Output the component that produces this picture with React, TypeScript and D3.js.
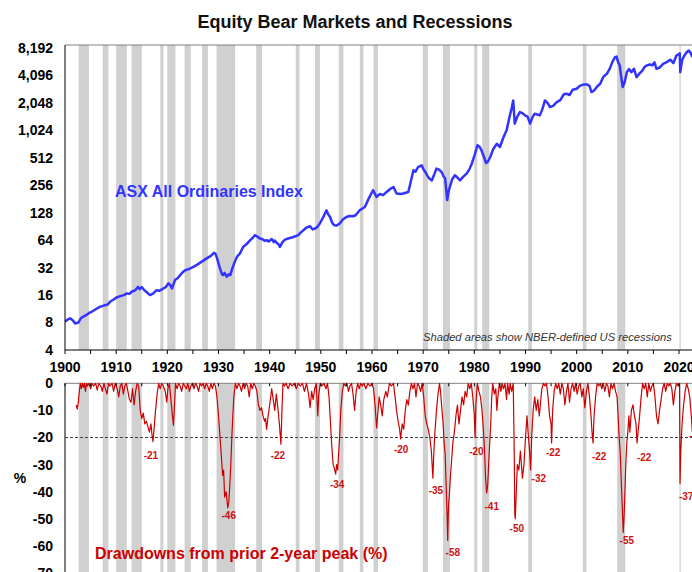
import React, { useRef, useEffect } from "react";
import { select, scaleLinear, scaleLog, line } from "d3";

// NBER US recessions (start, end) in fractional years
const recessions: [number, number][] = [
  [1902.67, 1904.67], [1907.37, 1908.5], [1910.0, 1912.08], [1913.0, 1915.0],
  [1918.62, 1919.25], [1920.0, 1921.58], [1923.37, 1924.58], [1926.8, 1927.92],
  [1929.62, 1933.25], [1937.37, 1938.5], [1945.1, 1945.83], [1948.87, 1949.83],
  [1953.5, 1954.42], [1957.62, 1958.33], [1960.29, 1961.17], [1969.92, 1970.92],
  [1973.87, 1975.25], [1980.0, 1980.58], [1981.54, 1982.92], [1990.54, 1991.25],
  [2001.2, 2001.92], [2007.92, 2009.5], [2020.1, 2020.33],
];

// ASX All Ordinaries index
const asxIndex: [number, number][] = [
  [1900.0, 8.2], [1900.5, 8.6], [1901.0, 8.9], [1901.5, 8.5], [1902.0, 7.8], [1902.6, 8.0],
  [1903.1, 8.9], [1903.6, 9.3], [1904.2, 9.7], [1904.7, 10.2], [1905.2, 10.5], [1906.0, 11.2],
  [1906.8, 11.9], [1907.3, 12.1], [1907.8, 12.4], [1908.3, 12.6], [1908.8, 13.5], [1909.5, 14.3],
  [1910.1, 15.1], [1910.8, 15.6], [1911.5, 16.0], [1912.1, 16.7], [1912.6, 16.5], [1913.0, 17.4],
  [1913.7, 18.0], [1914.3, 19.7], [1914.6, 18.6], [1915.0, 19.6], [1915.5, 18.1], [1916.0, 17.2],
  [1916.6, 16.0], [1917.2, 16.6], [1917.9, 18.1], [1918.5, 17.9], [1919.2, 18.9], [1919.7, 19.6],
  [1920.2, 21.5], [1920.6, 20.5], [1920.9, 18.9], [1921.2, 21.0], [1921.5, 23.4], [1922.0, 24.5],
  [1922.5, 26.5], [1923.0, 28.5], [1923.5, 30], [1924.2, 30.8], [1925.1, 32.6], [1926.0, 35],
  [1926.8, 37.5], [1927.7, 40.4], [1928.5, 43], [1929.1, 46.5], [1929.4, 45.5], [1929.7, 41],
  [1930.1, 34], [1930.4, 30], [1930.7, 27], [1930.9, 26.5], [1931.2, 28], [1931.6, 25.4],
  [1932.0, 27], [1932.3, 26.5], [1932.6, 30], [1933.0, 35], [1933.6, 42], [1934.2, 45.8],
  [1934.8, 54], [1935.5, 58], [1936.2, 64], [1936.7, 68], [1937.1, 72.6], [1937.6, 70],
  [1938.1, 66.8], [1938.6, 65.5], [1939.0, 63], [1939.4, 64], [1939.8, 62], [1940.4, 66],
  [1940.8, 61], [1941.0, 63.5], [1941.4, 59.7], [1941.8, 57], [1942.0, 54], [1942.5, 61],
  [1943.0, 65], [1943.6, 66.8], [1944.5, 69], [1945.6, 72.6], [1946.1, 78], [1946.6, 82.4],
  [1947.2, 88], [1947.9, 91], [1948.4, 84], [1948.9, 86], [1949.3, 89], [1949.8, 97.5],
  [1950.5, 115], [1951.1, 136], [1951.4, 124], [1951.8, 115], [1952.2, 100], [1952.6, 93.4],
  [1953.1, 93], [1953.7, 97.5], [1954.3, 108], [1955.0, 115], [1955.6, 118], [1956.3, 117],
  [1956.8, 120], [1957.6, 136], [1958.6, 148], [1959.4, 185], [1960.2, 226], [1960.6, 205],
  [1960.9, 191], [1961.5, 205], [1962.2, 200], [1962.8, 215], [1963.5, 232], [1964.2, 245],
  [1964.8, 208], [1965.5, 205], [1966.1, 208], [1967.1, 216], [1967.7, 300], [1968.1, 374],
  [1968.5, 360], [1969.0, 406], [1969.7, 424], [1970.1, 380], [1970.4, 358], [1970.9, 320],
  [1971.3, 300], [1971.7, 290], [1972.2, 340], [1972.6, 390], [1973.1, 380], [1973.6, 358],
  [1974.0, 320], [1974.3, 303], [1974.7, 176], [1974.9, 210], [1975.2, 245], [1975.7, 300],
  [1976.2, 330], [1976.7, 310], [1977.2, 290], [1977.9, 320], [1978.5, 344], [1979.0, 380],
  [1979.5, 442], [1980.1, 560], [1980.6, 702], [1981.0, 680], [1981.4, 619], [1981.9, 520],
  [1982.3, 449], [1982.7, 470], [1983.1, 523], [1983.7, 640], [1984.4, 731], [1985.0, 672],
  [1985.7, 860], [1986.3, 1024], [1986.9, 1450], [1987.3, 1800], [1987.6, 2180], [1987.9, 1212],
  [1988.4, 1450], [1988.9, 1625], [1989.4, 1580], [1989.9, 1494], [1990.4, 1450], [1990.9, 1212],
  [1991.3, 1400], [1991.8, 1559], [1992.3, 1530], [1992.8, 1494], [1993.3, 1750], [1993.8, 2180],
  [1994.3, 2050], [1994.8, 1843], [1995.4, 1900], [1996.1, 2090], [1996.8, 2200], [1997.5, 2550],
  [1998.0, 2583], [1998.6, 2500], [1999.2, 2850], [2000.0, 2928], [2000.6, 3150], [2001.3, 3250],
  [2002.0, 3266], [2002.5, 3150], [2002.9, 2692], [2003.4, 2800], [2004.0, 3100], [2004.6, 3323],
  [2005.2, 3950], [2005.9, 4273], [2006.5, 4900], [2007.0, 5800], [2007.5, 6502], [2007.8, 6600],
  [2008.1, 5732], [2008.4, 5300], [2008.8, 3600], [2009.0, 3053], [2009.4, 3500], [2009.8, 4452],
  [2010.2, 4800], [2010.7, 4452], [2011.2, 4850], [2011.7, 3926], [2012.2, 4250], [2012.8, 4600],
  [2013.3, 5100], [2013.7, 5272], [2014.3, 5400], [2014.8, 5300], [2015.2, 5700], [2015.6, 4850],
  [2016.2, 5000], [2016.9, 5500], [2017.6, 5732], [2018.3, 6100], [2018.9, 5600], [2019.5, 6780],
  [2019.9, 7000], [2020.15, 7150], [2020.25, 4452], [2020.6, 6000], [2021.0, 6700], [2021.5, 7370],
  [2021.9, 7700], [2022.3, 7200], [2022.6, 6502],
];

// drawdown from prior 2-year peak (%)
const drawdowns: [number, number][] = [
  [1902.2, -8], [1902.4, -9.5], [1902.6, -7], [1902.8, -3], [1903.0, 0], [1903.2, -2], [1903.4, 0],
  [1903.6, -1.5], [1903.8, 0], [1904.0, -3], [1904.2, 0], [1904.4, -1], [1904.7, 0], [1905.0, -2],
  [1905.3, 0], [1905.6, -1], [1906.0, 0], [1906.3, -2.5], [1906.6, 0], [1907.0, -1], [1907.3, -3],
  [1907.6, 0], [1907.9, -2], [1908.2, -4], [1908.5, 0], [1908.8, -1], [1909.2, 0], [1909.5, -3],
  [1909.8, 0], [1910.2, -2], [1910.5, -5], [1910.8, -1], [1911.1, 0], [1911.4, -4], [1911.7, -1],
  [1912.0, 0], [1912.3, -3], [1912.6, -6], [1912.9, -7], [1913.2, -2], [1913.5, -8], [1913.8, -3],
  [1914.1, 0], [1914.4, -1], [1914.7, -10], [1915.0, -13], [1915.3, -11], [1915.6, -15], [1915.9, -14],
  [1916.2, -16], [1916.5, -18], [1916.8, -15], [1917.0, -19], [1917.2, -21.5], [1917.4, -17],
  [1917.7, -10], [1918.0, -4], [1918.3, 0], [1918.6, -2], [1918.9, 0], [1919.2, -1], [1919.6, -3],
  [1919.9, -7], [1920.1, -2], [1920.4, 0], [1920.7, -6], [1921.0, -12], [1921.2, -15.5], [1921.4, -8],
  [1921.6, 0], [1921.9, -2], [1922.2, 0], [1922.5, -1], [1922.8, -3], [1923.1, 0], [1923.4, -1],
  [1923.7, -2], [1924.0, 0], [1924.3, -3], [1924.6, -1], [1924.9, 0], [1925.2, -2], [1925.5, 0],
  [1925.8, -1], [1926.1, -3], [1926.4, 0], [1926.7, -1], [1927.0, 0], [1927.3, -2], [1927.6, 0],
  [1927.9, -1], [1928.2, -3], [1928.5, 0], [1928.8, -2], [1929.1, 0], [1929.4, -1], [1929.7, -5],
  [1930.0, -12], [1930.3, -20], [1930.6, -28], [1930.8, -34], [1931.0, -32], [1931.2, -42],
  [1931.5, -40], [1931.8, -46], [1932.0, -44], [1932.2, -38], [1932.4, -30], [1932.6, -20],
  [1932.8, -12], [1933.0, -5], [1933.3, 0], [1933.6, -2], [1933.9, 0], [1934.2, -1], [1934.5, -3],
  [1934.8, 0], [1935.1, -2], [1935.4, 0], [1935.7, -1], [1936.0, -5], [1936.3, 0], [1936.6, -2],
  [1936.9, 0], [1937.2, -1], [1937.5, -3], [1937.8, -8], [1938.1, -10], [1938.4, -9], [1938.7, -12],
  [1939.0, -14], [1939.2, -13], [1939.4, -17], [1939.7, -12], [1940.0, -8], [1940.4, -2], [1940.7, -6],
  [1941.0, -10], [1941.3, -4], [1941.6, -9], [1941.9, -15], [1942.2, -22.5], [1942.4, -10],
  [1942.6, 0], [1942.9, -1], [1943.2, 0], [1943.6, -2], [1944.0, 0], [1944.4, -1], [1944.8, 0],
  [1945.2, -2], [1945.6, 0], [1946.0, -1], [1946.4, 0], [1946.8, -3], [1947.2, 0], [1947.6, -4],
  [1947.9, -9], [1948.2, -3], [1948.5, -6], [1948.8, -2], [1949.1, 0], [1949.4, -12], [1949.6, -4],
  [1949.9, 0], [1950.2, -1], [1950.6, 0], [1951.0, -2], [1951.3, 0], [1951.6, -5], [1951.9, -15],
  [1952.1, -22], [1952.4, -30], [1952.6, -31], [1952.9, -33.5], [1953.1, -30], [1953.3, -32],
  [1953.5, -25], [1953.7, -19], [1953.9, -10], [1954.2, -3], [1954.5, 0], [1954.8, -1], [1955.1, 0],
  [1955.4, -3], [1955.7, -1], [1956.0, 0], [1956.3, -4], [1956.6, -10], [1956.9, -3], [1957.2, 0],
  [1957.5, -2], [1957.8, 0], [1958.1, -1], [1958.4, 0], [1958.8, -2], [1959.2, 0], [1959.6, -1],
  [1960.0, 0], [1960.3, -2], [1960.6, -8], [1960.9, -16.5], [1961.1, -12], [1961.4, -5], [1961.7, -8],
  [1962.0, -12], [1962.3, -6], [1962.7, -3], [1963.0, -5], [1963.4, 0], [1963.8, -1], [1964.2, 0],
  [1964.5, -5], [1964.8, -10], [1965.1, -14], [1965.4, -17], [1965.6, -20.5], [1965.9, -15],
  [1966.2, -17], [1966.5, -10], [1966.8, -6], [1967.1, -8], [1967.4, -3], [1967.7, 0], [1968.0, -2],
  [1968.3, 0], [1968.6, -5], [1968.9, 0], [1969.2, -1], [1969.5, -3], [1969.8, 0], [1970.1, -5],
  [1970.4, -12], [1970.7, -15], [1971.0, -17], [1971.3, -20], [1971.6, -25], [1971.9, -35],
  [1972.1, -25], [1972.3, -18], [1972.6, -10], [1972.9, -4], [1973.2, 0], [1973.4, -3], [1973.6, -8],
  [1973.9, -15], [1974.1, -22], [1974.3, -26], [1974.5, -38], [1974.7, -50], [1974.8, -58],
  [1974.95, -45], [1975.1, -42], [1975.3, -35], [1975.5, -30], [1975.8, -22], [1976.1, -18],
  [1976.4, -12], [1976.7, -8], [1977.0, -15], [1977.3, -10], [1977.6, -5], [1977.9, -8], [1978.2, -3],
  [1978.5, -5], [1978.8, 0], [1979.1, -2], [1979.4, 0], [1979.7, -5], [1980.0, -12], [1980.15, -20],
  [1980.3, -8], [1980.6, 0], [1980.9, -3], [1981.2, -5], [1981.5, -10], [1981.8, -18], [1982.0, -25],
  [1982.2, -35], [1982.4, -40.5], [1982.6, -38], [1982.8, -30], [1983.0, -22], [1983.2, -15],
  [1983.4, -5], [1983.6, 0], [1983.9, -4], [1984.2, -2], [1984.4, -10], [1984.6, -5], [1984.9, 0],
  [1985.2, -3], [1985.4, 0], [1985.7, -2], [1986.0, 0], [1986.3, -6], [1986.5, 0], [1986.8, -4],
  [1987.0, 0], [1987.3, -3], [1987.6, 0], [1987.8, -25], [1987.9, -48], [1988.0, -50], [1988.2, -40],
  [1988.4, -30], [1988.7, -32], [1989.0, -25], [1989.2, -30], [1989.4, -35], [1989.7, -30],
  [1990.0, -20], [1990.3, -12], [1990.5, -18], [1990.8, -25], [1991.0, -32], [1991.2, -20],
  [1991.5, -10], [1991.8, -5], [1992.1, -10], [1992.4, -6], [1992.7, -12], [1992.9, -8], [1993.2, -2],
  [1993.5, 0], [1993.8, -1], [1994.1, 0], [1994.4, -5], [1994.7, -12], [1995.0, -15], [1995.1, -22],
  [1995.3, -10], [1995.6, -3], [1995.9, 0], [1996.2, -2], [1996.5, 0], [1996.8, -4], [1997.1, 0],
  [1997.4, -2], [1997.7, -8], [1998.0, -3], [1998.3, 0], [1998.6, -7], [1998.9, -2], [1999.2, 0],
  [1999.5, -3], [1999.8, 0], [2000.1, -4], [2000.4, -1], [2000.7, 0], [2001.0, -5], [2001.3, -2],
  [2001.6, -9], [2001.9, -3], [2002.2, 0], [2002.5, -5], [2002.8, -12], [2003.0, -18], [2003.2, -22],
  [2003.4, -12], [2003.7, -5], [2004.0, 0], [2004.3, -1], [2004.6, 0], [2004.9, -2], [2005.2, 0],
  [2005.5, -3], [2005.8, 0], [2006.1, -1], [2006.4, -5], [2006.7, 0], [2007.0, -2], [2007.3, 0],
  [2007.6, -3], [2007.9, -5], [2008.1, -12], [2008.3, -20], [2008.5, -25], [2008.7, -35],
  [2008.9, -45], [2009.1, -55], [2009.25, -50], [2009.4, -42], [2009.6, -30], [2009.8, -22],
  [2010.0, -18], [2010.2, -12], [2010.4, -18], [2010.7, -10], [2011.0, -8], [2011.3, -12],
  [2011.6, -15], [2011.8, -22], [2012.0, -18], [2012.3, -12], [2012.6, -5], [2012.9, 0], [2013.2, -2],
  [2013.5, 0], [2013.8, -5], [2014.1, 0], [2014.4, -3], [2014.7, -1], [2015.0, 0], [2015.3, -5],
  [2015.6, -12], [2015.9, -15], [2016.2, -10], [2016.5, -6], [2016.8, -2], [2017.1, 0], [2017.4, -3],
  [2017.7, 0], [2018.0, -1], [2018.3, 0], [2018.6, -2], [2018.9, -8], [2019.2, -3], [2019.5, 0],
  [2019.8, -1], [2020.1, 0], [2020.2, -37], [2020.35, -25], [2020.6, -15], [2020.9, -8], [2021.2, -3],
  [2021.5, 0], [2021.8, -2], [2022.1, -5], [2022.4, -12], [2022.6, -18],
];

// trough annotations: text, year, value where the label sits
const troughLabels: [string, number, number][] = [
  ["-21", 1916.8, -26.5], ["-46", 1932.0, -48.9], ["-22", 1941.6, -26.8], ["-34", 1953.2, -37.2],
  ["-20", 1965.7, -24.6], ["-35", 1972.5, -39.6], ["-58", 1975.8, -62.6], ["-20", 1980.4, -25.2],
  ["-41", 1983.4, -45.5], ["-50", 1988.3, -53.4], ["-32", 1992.6, -35.3], ["-22", 1995.4, -25.7],
  ["-22", 2004.4, -27.1], ["-55", 2009.8, -58.1], ["-22", 2013.2, -27.5], ["-37", 2021.4, -41.8],
  ["-19", 2023.4, -19.1],
];

const indexTicks = [4, 8, 16, 32, 64, 128, 256, 512, 1024, 2048, 4096, 8192];
const ddTicks = [0, -10, -20, -30, -40, -50, -60, -70];
const yearLabels = [1900, 1910, 1920, 1930, 1940, 1950, 1960, 1970, 1980, 1990, 2000, 2010, 2020];
const yearMinorTicks = [1900, 1905, 1910, 1915, 1920, 1925, 1930, 1935, 1940, 1945, 1950, 1955, 1960,
  1965, 1970, 1975, 1980, 1985, 1990, 1995, 2000, 2005, 2010, 2015, 2020];

const FONT = "Arial, 'Liberation Sans', sans-serif";

export default function App() {
  const svgRef = useRef<SVGSVGElement>(null);

  useEffect(() => {
    const svg = select(svgRef.current);
    svg.selectAll("*").remove();

    const width = 692;
    const height = 572;
    const left = 65;
    const topY0 = 45;
    const topY1 = 350;
    const botY0 = 383.3;

    const x = scaleLinear().domain([1900, 2020]).range([65, 679]);
    const yIdx = scaleLog().base(2).domain([4, 8192]).range([350, 48]);
    const yDd = scaleLinear().domain([0, -70]).range([botY0, 573]);

    const defs = svg.append("defs");
    defs.append("clipPath").attr("id", "clipTop")
      .append("rect").attr("x", left).attr("y", topY0).attr("width", width - left).attr("height", topY1 - topY0);
    defs.append("clipPath").attr("id", "clipBot")
      .append("rect").attr("x", left).attr("y", botY0 - 1).attr("width", width - left).attr("height", height - botY0 + 1);

    // recession shading in both panels
    svg.append("g").selectAll("rect").data(recessions).join("rect")
      .attr("x", (d) => x(d[0])).attr("width", (d) => x(d[1]) - x(d[0]))
      .attr("y", topY0).attr("height", topY1 - topY0).attr("fill", "#d0d0d0");
    svg.append("g").selectAll("rect").data(recessions).join("rect")
      .attr("x", (d) => x(d[0])).attr("width", (d) => x(d[1]) - x(d[0]))
      .attr("y", botY0).attr("height", height - botY0).attr("fill", "#d0d0d0");

    // frames
    svg.append("line").attr("x1", left).attr("x2", width).attr("y1", topY0).attr("y2", topY0)
      .attr("stroke", "#808080").attr("stroke-width", 1);
    svg.append("line").attr("x1", left).attr("x2", width).attr("y1", botY0).attr("y2", botY0)
      .attr("stroke", "#808080").attr("stroke-width", 1);

    // index line
    const idxLine = line<[number, number]>().x((d) => x(d[0])).y((d) => yIdx(d[1]));
    svg.append("path").datum(asxIndex).attr("clip-path", "url(#clipTop)")
      .attr("d", idxLine).attr("fill", "none").attr("stroke", "#3333ff")
      .attr("stroke-width", 2.5).attr("stroke-linejoin", "round");

    // -20% threshold
    svg.append("line").attr("x1", left).attr("x2", width).attr("y1", yDd(-20)).attr("y2", yDd(-20))
      .attr("stroke", "#404040").attr("stroke-width", 1).attr("stroke-dasharray", "3,2");

    // drawdown line
    const ddLine = line<[number, number]>().x((d) => x(d[0])).y((d) => yDd(d[1]));
    svg.append("path").datum(drawdowns).attr("clip-path", "url(#clipBot)")
      .attr("d", ddLine).attr("fill", "none").attr("stroke", "#cc0000")
      .attr("stroke-width", 1.2).attr("stroke-linejoin", "round");

    // axes lines
    svg.append("line").attr("x1", left).attr("x2", left).attr("y1", topY0).attr("y2", topY1)
      .attr("stroke", "#000");
    svg.append("line").attr("x1", left).attr("x2", width).attr("y1", topY1).attr("y2", topY1)
      .attr("stroke", "#000");
    svg.append("line").attr("x1", left).attr("x2", left).attr("y1", botY0).attr("y2", height)
      .attr("stroke", "#000");

    svg.append("g").selectAll("line").data(yearMinorTicks).join("line")
      .attr("x1", (d) => x(d)).attr("x2", (d) => x(d)).attr("y1", topY1).attr("y2", topY1 + 4)
      .attr("stroke", "#000");
    svg.append("g").selectAll("line").data(yearMinorTicks).join("line")
      .attr("x1", (d) => x(d)).attr("x2", (d) => x(d)).attr("y1", botY0).attr("y2", botY0 + 3)
      .attr("stroke", "#000");

    // tick labels
    svg.append("g").selectAll("text").data(indexTicks).join("text")
      .attr("x", 53).attr("y", (d) => yIdx(d)).attr("dy", "0.35em")
      .attr("text-anchor", "end").attr("font-family", FONT).attr("font-weight", "bold")
      .attr("font-size", 14).attr("fill", "#000")
      .text((d) => d.toLocaleString("en-US"));
    svg.append("g").selectAll("text").data(yearLabels).join("text")
      .attr("x", (d) => x(d)).attr("y", 372).attr("text-anchor", "middle")
      .attr("font-family", FONT).attr("font-weight", "bold").attr("font-size", 14).attr("fill", "#000")
      .text((d) => String(d));
    svg.append("g").selectAll("text").data(ddTicks).join("text")
      .attr("x", 53).attr("y", (d) => yDd(d)).attr("dy", "0.35em")
      .attr("text-anchor", "end").attr("font-family", FONT).attr("font-weight", "bold")
      .attr("font-size", 14).attr("fill", "#000")
      .text((d) => String(d));

    svg.append("text").attr("x", 20).attr("y", 478).attr("dy", "0.35em").attr("text-anchor", "middle")
      .attr("font-family", FONT).attr("font-weight", "bold").attr("font-size", 14).text("%");

    // trough labels
    svg.append("g").attr("clip-path", "url(#clipBot)").selectAll("text").data(troughLabels).join("text")
      .attr("x", (d) => x(d[1])).attr("y", (d) => yDd(d[2])).attr("dy", "0.35em")
      .attr("text-anchor", "middle").attr("font-family", FONT).attr("font-weight", "bold")
      .attr("font-size", 10).attr("fill", "#cc1111")
      .text((d) => d[0]);

    // titles & notes
    svg.append("text").attr("x", 355).attr("y", 28).attr("text-anchor", "middle")
      .attr("font-family", FONT).attr("font-weight", "bold").attr("font-size", 18)
      .attr("fill", "#111").text("Equity Bear Markets and Recessions");
    svg.append("text").attr("x", 115).attr("y", 191).attr("dy", "0.35em")
      .attr("font-family", FONT).attr("font-weight", "bold").attr("font-size", 16)
      .attr("fill", "#3333ff").text("ASX All Ordinaries Index");
    svg.append("text").attr("x", 423).attr("y", 337).attr("dy", "0.35em")
      .attr("font-family", FONT).attr("font-style", "italic").attr("font-size", 11.2)
      .attr("fill", "#333").text("Shaded areas show NBER-defined US recessions");
    svg.append("text").attr("x", 95).attr("y", 553).attr("dy", "0.35em")
      .attr("font-family", FONT).attr("font-weight", "bold").attr("font-size", 16)
      .attr("fill", "#cc0000").text("Drawdowns from prior 2-year peak (%)");
  }, []);

  return (
    <svg
      ref={svgRef}
      width={692}
      height={572}
      style={{ position: "absolute", left: 0, top: 0, background: "#fff" }}
    />
  );
}
